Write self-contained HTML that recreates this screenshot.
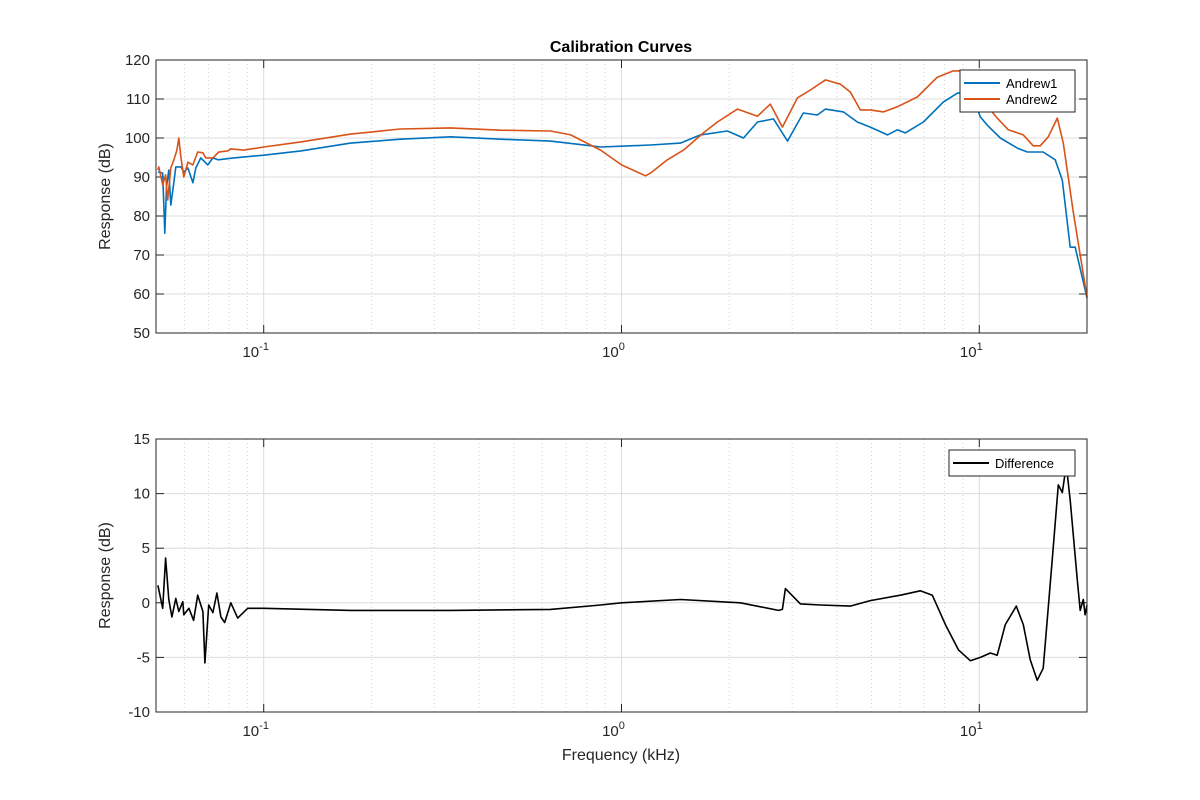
<!DOCTYPE html>
<html><head><meta charset="utf-8"><style>
body{margin:0;background:#fff;}
svg{display:block;font-family:"Liberation Sans","DejaVu Sans",sans-serif;}
</style></head><body>
<svg id="chart" width="1200" height="800" viewBox="0 0 1200 800"></svg>
<script>
// ---- data ----
const a1Freq=[0.0506,0.0522,0.0529,0.0535,0.0543,0.0550,0.0561,0.0568,0.0587,0.0598,0.0614,0.0634,0.0646,0.0667,0.0698,0.0721,0.0745,0.0824,0.1,0.127,0.175,0.241,0.333,0.459,0.633,0.768,0.874,1.0,1.205,1.462,1.662,1.977,2.193,2.399,2.660,2.910,3.222,3.526,3.715,4.17,4.56,4.96,5.54,5.90,6.21,6.98,7.93,8.68,9.44,10.07,10.52,11.45,12.77,13.62,15.09,16.30,17.06,17.95,18.54,20];
const a1Vals=[91.3,91.0,75.6,87.4,91.8,82.8,88.7,92.6,92.6,91.3,92.3,88.5,92.3,94.9,93.1,94.9,94.4,94.9,95.6,96.7,98.7,99.7,100.3,99.7,99.2,98.3,97.7,97.9,98.2,98.7,100.8,101.8,100.0,104.1,104.9,99.2,106.4,105.9,107.4,106.7,104.1,102.8,100.8,102.1,101.3,104.1,109.2,111.5,112.0,105.4,103.3,100.0,97.4,96.4,96.4,94.4,89.2,72.0,72.0,59.0];
const a2Freq=[0.0506,0.0509,0.0522,0.0532,0.0539,0.0550,0.0561,0.0572,0.0579,0.0587,0.0598,0.0614,0.0634,0.0654,0.0676,0.0689,0.0721,0.0749,0.0793,0.0809,0.0879,0.1,0.127,0.175,0.241,0.333,0.459,0.633,0.721,0.874,1.0,1.167,1.205,1.344,1.490,1.694,1.854,2.109,2.399,2.606,2.817,3.103,3.373,3.715,4.09,4.36,4.65,4.96,5.40,5.90,6.71,7.63,8.46,9.44,10.3,10.74,11.22,12.05,13.27,14.15,14.80,15.59,16.52,17.17,18.32,20];
const a2Vals=[91.8,92.6,88.0,90.5,84.1,92.3,94.4,96.9,100.0,95.1,90.0,93.8,93.1,96.4,96.2,94.9,94.9,96.4,96.7,97.2,96.9,97.7,99.0,101.0,102.3,102.6,102.0,101.8,100.8,96.9,93.1,90.3,91.0,94.4,96.9,101.3,104.1,107.4,105.6,108.7,102.8,110.3,112.3,114.9,113.8,111.8,107.2,107.2,106.7,108.0,110.5,115.6,117.2,117.2,112.0,107.2,105.1,102.1,100.8,98.0,98.0,100.3,105.1,98.7,80.8,59.2];
const dFreq=[0.0506,0.0522,0.0532,0.0543,0.0554,0.0568,0.0579,0.0594,0.0598,0.0618,0.0637,0.0654,0.0676,0.0685,0.0702,0.0721,0.0740,0.0759,0.0778,0.0809,0.0846,0.0902,0.1,0.175,0.333,0.633,0.874,1.0,1.462,2.149,2.746,2.817,2.871,3.162,3.595,4.36,4.96,6.02,6.84,7.39,8.04,8.74,9.44,10.07,10.74,11.22,11.82,12.69,13.27,13.88,14.52,15.09,15.99,16.63,17.06,17.50,17.95,18.79,19.14,19.53,19.76,20];
const dVals=[1.6,-0.5,4.1,0.3,-1.3,0.4,-0.8,0.1,-1.1,-0.5,-1.6,0.7,-0.8,-5.5,-0.2,-0.9,0.9,-1.3,-1.8,0.0,-1.4,-0.5,-0.5,-0.7,-0.7,-0.6,-0.2,0.0,0.3,0.0,-0.7,-0.6,1.3,-0.1,-0.2,-0.3,0.2,0.7,1.1,0.7,-2.0,-4.3,-5.3,-5.0,-4.6,-4.8,-2.0,-0.3,-2.0,-5.2,-7.1,-6.0,3.9,10.8,10.1,12.6,9.4,2.1,-0.7,0.3,-1.1,-0.2];
const topTicks=[50,60,70,80,90,100,110,120];
const botTicks=[-10,-5,0,5,10,15];
const xDecades=[-1,0,1];

// ---- layout ----
const NS="http://www.w3.org/2000/svg";
const svg=document.getElementById('chart');
const X0=156,X1=1087,FMIN=0.05,FMAX=20;
function xs(f){return X0+(Math.log10(f)-Math.log10(FMIN))/(Math.log10(FMAX)-Math.log10(FMIN))*(X1-X0);}
function mk(tag,at,parent){const e=document.createElementNS(NS,tag);for(const k in at)e.setAttribute(k,at[k]);(parent||svg).appendChild(e);return e;}

function panel(name,yTop,yBot,vmin,vmax,ticks,series,legend){
  const g=mk('g',{});
  
  
  const ys=v=>yBot-(v-vmin)/(vmax-vmin)*(yBot-yTop);
  mk('rect',{x:X0,y:yTop,width:X1-X0,height:yBot-yTop,fill:'#fff'},g);
  for(let d=-2;d<=1;d++)for(let m=2;m<=9;m++){const f=m*Math.pow(10,d);if(f<=FMIN||f>=FMAX)continue;const x=xs(f);
    mk('line',{x1:x,x2:x,y1:yTop,y2:yBot,stroke:'#d2d2d2','stroke-width':1,'stroke-dasharray':'1,3'},g);}
  xDecades.forEach(d=>{const x=xs(Math.pow(10,d));
    const l=mk('line',{x1:x,x2:x,y1:yTop,y2:yBot,stroke:'#dcdcdc','stroke-width':1},g);
    
    
    const t=mk('text',{x:x-8,y:yBot+24,'font-size':15,fill:'#262626','text-anchor':'middle'},g);
    
    
    t.textContent='10';
    const s=mk('tspan',{dy:-7,'font-size':11},t);s.textContent=String(d);
    mk('line',{x1:x,x2:x,y1:yBot,y2:yBot-8,stroke:'#262626'},g);
    mk('line',{x1:x,x2:x,y1:yTop,y2:yTop+8,stroke:'#262626'},g);
  });
  ticks.forEach(v=>{const y=ys(v);
    mk('line',{x1:X0,x2:X1,y1:y,y2:y,stroke:'#dcdcdc','stroke-width':1},g);
    mk('line',{x1:X0,x2:X0+8,y1:y,y2:y,stroke:'#262626'},g);
    mk('line',{x1:X1,x2:X1-8,y1:y,y2:y,stroke:'#262626'},g);
    const t=mk('text',{x:X0-6,y:y+5,'font-size':15,fill:'#262626','text-anchor':'end'},g);
    
    
    t.textContent=String(v);
  });
  series.forEach(s=>{
    const p=mk('polyline',{points:s.f.map((f,i)=>xs(f).toFixed(1)+','+ys(s.v[i]).toFixed(1)).join(' '),fill:'none',stroke:s.c,'stroke-width':1.6,'stroke-linejoin':'round'},g);
    
    
  });
  mk('rect',{x:X0,y:yTop,width:X1-X0,height:yBot-yTop,fill:'none',stroke:'#262626','stroke-width':1},g);
  const yl=mk('text',{x:0,y:0,'font-size':16,fill:'#262626','text-anchor':'middle',transform:`translate(${X0-46},${(yTop+yBot)/2}) rotate(-90)`},g);
  
  
  yl.textContent='Response (dB)';
  const lg=mk('g',{},g);
  
  
  mk('rect',{x:legend.x,y:legend.y,width:legend.w,height:legend.items.length*16+10,fill:'#fff',stroke:'#262626'},lg);
  legend.items.forEach((it,i)=>{const y=legend.y+13+i*16;
    const e=mk('g',{},lg);
    
    
    mk('line',{x1:legend.x+4,x2:legend.x+40,y1:y,y2:y,stroke:it.c,'stroke-width':2},e);
    const t=mk('text',{x:legend.x+46,y:y+5,'font-size':13,fill:'#000'},e);t.textContent=it.t;});
  return g;
}
const tt=mk('text',{x:621,y:52,'font-size':16,'font-weight':'bold','text-anchor':'middle',fill:'#000'});


tt.textContent='Calibration Curves';
panel('top-panel',60,333,50,120,topTicks,
  [{f:a1Freq,v:a1Vals,c:'#0072BD',name:'andrew1-line'},{f:a2Freq,v:a2Vals,c:'#D95319',name:'andrew2-line'}],
  {x:960,y:70,w:115,items:[{t:'Andrew1',c:'#0072BD'},{t:'Andrew2',c:'#D95319'}]});
panel('bottom-panel',439,712,-10,15,botTicks,
  [{f:dFreq,v:dVals,c:'#000',name:'difference-line'}],
  {x:949,y:450,w:126,items:[{t:'Difference',c:'#000'}]});
const xl=mk('text',{x:621,y:760,'font-size':16,fill:'#262626','text-anchor':'middle'});


xl.textContent='Frequency (kHz)';
</script>
</body></html>
